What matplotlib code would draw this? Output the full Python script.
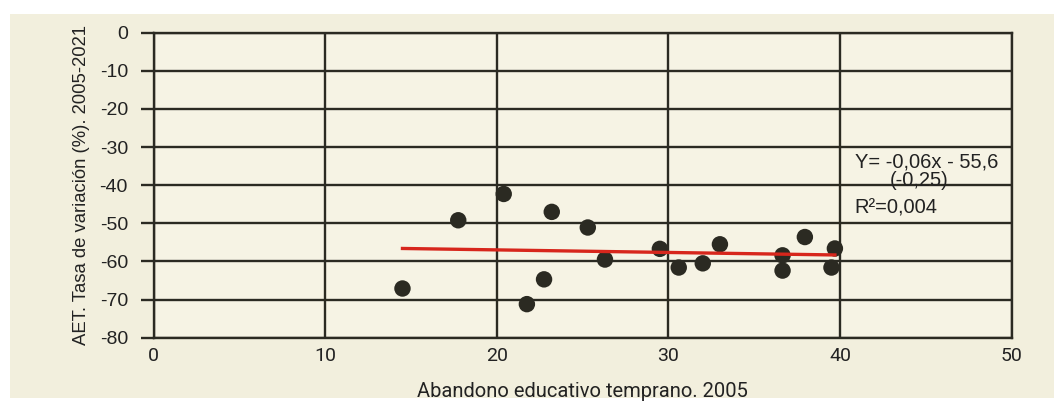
import matplotlib
matplotlib.use("Agg")
import matplotlib.pyplot as plt
from matplotlib.patches import Rectangle

plt.rcParams['axes.unicode_minus'] = False

# Abandono educativo temprano 2005 vs AET tasa de variacion 2005-2021
abandono_2005 = [14.5, 17.75, 20.4, 23.2, 25.3, 26.3, 21.75, 22.75, 29.5,
                 30.6, 32.0, 33.0, 36.65, 36.65, 37.95, 39.7, 39.5]
aet_variacion = [-67.1, -49.2, -42.3, -47.0, -51.1, -59.5, -71.2, -64.7, -56.7,
                 -61.6, -60.5, -55.5, -58.4, -62.4, -53.6, -56.6, -61.6]

# recta de regresion (extremos)
trend_x = [14.5, 39.7]
trend_y = [-56.6, -58.3]

x_ticks = [0, 10, 20, 30, 40, 50]
y_ticks = [0, -10, -20, -30, -40, -50, -60, -70, -80]

cream = '#f2efdd'
dark = '#2b2a22'

fig = plt.figure(figsize=(10.54, 4.07), dpi=100)
fig.patch.set_facecolor('white')
# fondo crema con margen blanco arriba e izquierda
bg = Rectangle((10 / 1054, 1 - 398 / 407), 1, (398 - 14) / 407,
               transform=fig.transFigure, facecolor=cream,
               edgecolor='none', zorder=-10)
fig.add_artist(bg)

ax = fig.add_axes([0.1458, 0.1703, 0.9598 - 0.1458, 0.9197 - 0.1703])
ax.set_facecolor('#f6f3e4')

ax.set_xlim(0, 50)
ax.set_ylim(-80, 0)
ax.set_xticks(x_ticks)
ax.set_yticks(y_ticks)
ax.grid(True, color=dark, linewidth=1.7)
ax.set_axisbelow(True)
for s in ax.spines.values():
    s.set_color(dark)
    s.set_linewidth(1.7)

ax.tick_params(axis='y', length=9.5, width=1.7, color=dark, pad=9,
               labelsize=14, labelcolor='#222222')
ax.tick_params(axis='x', length=0, pad=7, labelsize=14, labelcolor='#222222')
for lab in ax.get_yticklabels():
    lab.set_family('Liberation Sans')
for lab in ax.get_xticklabels():
    lab.set_family('Roboto')

ax.scatter(abandono_2005, aet_variacion, s=140, color=dark, zorder=3,
           edgecolors='none')
ax.plot(trend_x, trend_y, color='#d7261c', linewidth=2.4, zorder=4)

ax.text(40.85, -34.0, 'Y= -0,06x - 55,6', fontsize=14.5,
        family='Liberation Sans', color='#222222', va='center')
ax.text(44.6, -38.9, '(-0,25)', fontsize=14.5, family='Liberation Sans',
        color='#222222', va='center', ha='center')
ax.text(40.85, -46.0, 'R²=0,004', fontsize=14.5, family='Liberation Sans',
        color='#222222', va='center')

ax.set_xlabel('Abandono educativo temprano. 2005', fontsize=14.5,
              family='Roboto', color='#222222', labelpad=12)
ax.set_ylabel('AET. Tasa de variación (%). 2005-2021', fontsize=13.3,
              family='Liberation Sans', color='#222222', labelpad=7)

fig.savefig('out.png', dpi=100, facecolor=fig.get_facecolor())
